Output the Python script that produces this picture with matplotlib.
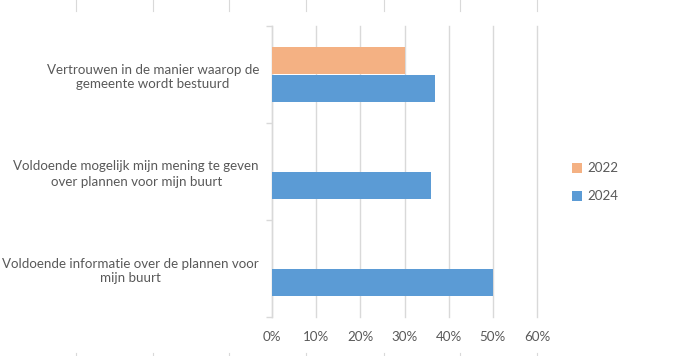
import matplotlib
matplotlib.use("Agg")
import matplotlib.pyplot as plt
from matplotlib.lines import Line2D
from matplotlib.ticker import PercentFormatter

categories = [
    "Vertrouwen in de manier waarop de\ngemeente wordt bestuurd",
    "Voldoende mogelijk mijn mening te geven\nover plannen voor mijn buurt",
    "Voldoende informatie over de plannen voor\nmijn buurt",
]
series_names = ["2022", "2024"]
values_2022 = [0.30, None, None]
values_2024 = [0.37, 0.36, 0.50]
x_ticks = [0, 0.1, 0.2, 0.3, 0.4, 0.5, 0.6]

c2022 = "#F4B183"
c2024 = "#5B9BD5"
grid_c = "#D9D9D9"
text_c = "#595959"

plt.rcParams['font.family'] = ['Lato', 'DejaVu Sans']

fig = plt.figure(figsize=(6.89, 3.56), dpi=100)
ax = fig.add_axes([272/689, 1-317/356, (537-272)/689, (317-26)/356])

n = len(categories)
ypos = list(range(n))
h = 0.28
for i in range(n):
    if values_2022[i] is not None:
        ax.barh(ypos[i] - h/2, values_2022[i], height=h, color=c2022, zorder=3)
    ax.barh(ypos[i] + h/2, values_2024[i], height=h, color=c2024, zorder=3)

ax.set_ylim(n - 0.5, -0.5)
ax.set_xlim(0, 0.6)
ax.set_xticks(x_ticks)
ax.xaxis.set_major_formatter(PercentFormatter(1.0, decimals=0))
ax.set_yticks(ypos)
ax.set_yticklabels(categories, ha="right", multialignment="center", linespacing=1.3)
ax.tick_params(axis="y", length=0, pad=9.4, labelsize=9.6, labelcolor=text_c)
ax.tick_params(axis="x", length=0, pad=10, labelsize=9.6, labelcolor=text_c)
ax.set_yticks([k - 0.5 for k in range(n + 1)], minor=True)
ax.tick_params(axis="y", which="minor", length=4, color=grid_c, width=1)
ax.grid(axis="x", color=grid_c, linewidth=1, zorder=0)
for gl in ax.get_xgridlines():
    gl.set_clip_on(False)
for s in ["top", "right", "bottom"]:
    ax.spines[s].set_visible(False)
ax.spines["left"].set_color(grid_c)
ax.spines["left"].set_linewidth(1)

handles = [Line2D([], [], marker="s", linestyle="none", markersize=7,
                  color=c, markeredgewidth=0) for c in (c2022, c2024)]
fig.legend(handles, series_names, loc="center left", bbox_to_anchor=(557/689, 1-182.5/356),
           frameon=False, fontsize=9.6, labelcolor=text_c, handletextpad=0.2,
           labelspacing=1.2, handlelength=1.2)

# faint decorative edge marks from the original image
for xp in [76, 153, 229, 306, 384, 460, 537]:
    fig.add_artist(Line2D([xp/689, xp/689], [1, 1-11/356], color=grid_c, lw=0.8))
    fig.add_artist(Line2D([xp/689, xp/689], [0, 3/356], color=grid_c, lw=0.8))

fig.savefig("out.png", dpi=100)
